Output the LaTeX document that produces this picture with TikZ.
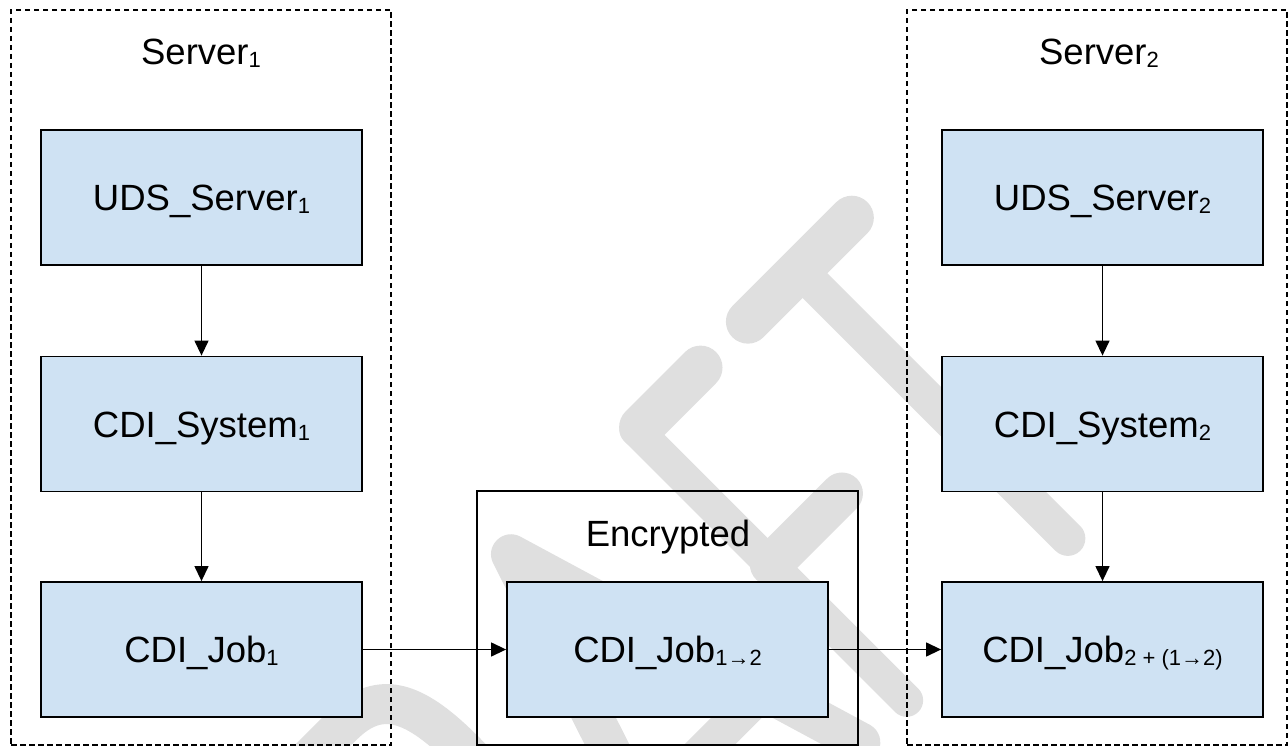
\documentclass[tikz,border=0pt]{standalone}
\usepackage{fontspec}
\setmainfont{Liberation Sans}
\usetikzlibrary{arrows.meta}
\definecolor{boxblue}{HTML}{CFE2F3}
\definecolor{wmgray}{gray}{0.875}
% smaller, lowered index text
\newcommand\idx[1]{\raisebox{-3pt}{\fontsize{22}{22}\selectfont #1}}

\begin{document}
\begin{tikzpicture}[x=1pt,y=-1pt,
  every node/.style={font=\fontsize{36.5}{40}\selectfont},
  comp/.style={draw=black, line width=1.8pt, fill=boxblue,
    minimum width=321pt, minimum height=135pt, inner sep=0pt,
    text height=26pt, text depth=0pt},
  group/.style={draw=black, line width=1.2pt, dash pattern=on 5.5pt off 3.5pt,
    inner sep=0pt, minimum width=380pt, minimum height=735pt},
  frame/.style={draw=black, line width=1.5pt, inner sep=0pt,
    minimum width=381pt, minimum height=254pt},
  lbl/.style={anchor=base, inner sep=0pt},
  flow/.style={draw=black, line width=1.3pt, -{Triangle[length=15pt,width=14pt]}},
  wmstroke/.style={draw=wmgray, line cap=round, line join=round}
]
\useasboundingbox (0,0) rectangle (1288,746);

% background watermark: letters of "DRAFT", set along a 45 degree baseline
\begin{scope}
  \clip (0,0) rectangle (1288,746);
  \begin{scope}[shift={(907,724)}, x={(0.7071pt,0.7071pt)}, y={(-0.7071pt,0.7071pt)}, wmstroke]
    % R
    \draw[line width=33pt] (-453.5,17) -- (-453.5,398);
    \draw[line width=40pt] (-453.5,398) -- (-400,398)
      .. controls (-345,398) and (-332,360) .. (-332,294)
      .. controls (-332,228) and (-345,190) .. (-400,190) -- (-453.5,190);
    \draw[line width=38pt] (-395,190) -- (-330,18);
    % A
    \draw[line width=40pt] (-285,20) -- (-160,400) -- (-46,20);
    \draw[line width=36pt] (-250,125) -- (-78,125);
    % F
    \draw[line width=33pt] (16.5,17) -- (16.5,400);
    \draw[line width=44pt] (22,398) -- (106,398);
    \draw[line width=42pt] (16.5,209) -- (117,209);
    % T
    \draw[line width=44pt] (172,397) -- (319,397);
    \draw[line width=35pt] (245,397) -- (245,17.5);
  \end{scope}
\end{scope}

% server groups
\node[group] (srv1) at (201,377.5) {};
\node[group] (srv2) at (1097,377.5) {};
\node[lbl] (srv1lbl) at (201,65) {Server\idx{1}};
\node[lbl] (srv2lbl) at (1099,65) {Server\idx{2}};

% encrypted transfer
\node[frame] (enc) at (667.5,618) {};
\node[lbl] (enclbl) at (668,546) {Encrypted};

% components
\node[comp] (uds1) at (201.5,197.5) {UDS\_Server\idx{1}};
\node[comp] (sys1) at (201.5,424) {CDI\_System\idx{1}};
\node[comp] (job1) at (201.5,649.5) {CDI\_Job\idx{1}};
\node[comp] (job12) at (667.5,649.5) {CDI\_Job\idx{1→2}};
\node[comp] (uds2) at (1102.5,197.5) {UDS\_Server\idx{2}};
\node[comp] (sys2) at (1102.5,424) {CDI\_System\idx{2}};
\node[comp] (job2) at (1102.5,649.5) {CDI\_Job\idx{2 + (1→2)}};

% connectors
\draw[flow] (uds1) -- (sys1);
\draw[flow] (sys1) -- (job1);
\draw[flow] (uds2) -- (sys2);
\draw[flow] (sys2) -- (job2);
\draw[flow] (job1.east) -- (job12.west);
\draw[flow] (job12.east) -- (job2.west);
\end{tikzpicture}
\end{document}
